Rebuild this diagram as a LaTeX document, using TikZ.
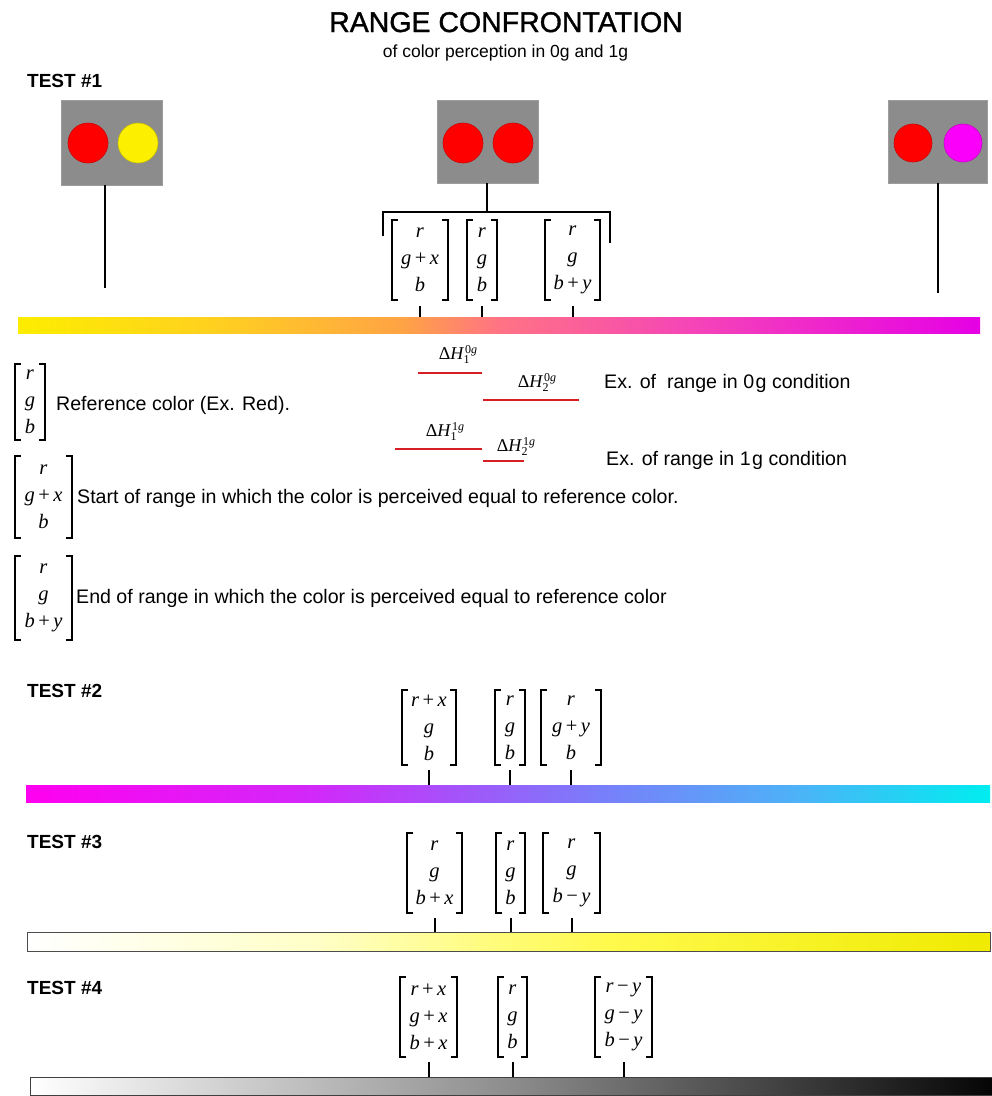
\documentclass[tikz,border=0pt]{standalone}
\usepackage{fontspec}
\setmainfont{Liberation Sans}
\newfontfamily\mfont{Liberation Serif}
\newfontfamily\titlefont[FakeBold=1.2]{Liberation Sans}
\definecolor{imggray}{RGB}{140,140,140}
\definecolor{rangered}{RGB}{215,30,35}
\definecolor{dotyellow}{RGB}{252,240,0}
\definecolor{dotmag}{RGB}{250,0,250}
\pgfdeclarehorizontalshading{gradA}{100bp}{rgb(0bp)=(0.99,0.93,0); rgb(25bp)=(0.99,0.93,0); rgb(35bp)=(1,0.82,0.12); rgb(45bp)=(1,0.64,0.27); rgb(50bp)=(1,0.45,0.52); rgb(60bp)=(0.96,0.27,0.72); rgb(75bp)=(0.9,0,0.9); rgb(100bp)=(0.9,0,0.9)}
\pgfdeclarehorizontalshading{gradB}{100bp}{rgb(0bp)=(1,0,0.94); rgb(25bp)=(1,0,0.94); rgb(40bp)=(0.82,0.16,0.98); rgb(47.5bp)=(0.64,0.33,0.98); rgb(55bp)=(0.47,0.5,0.98); rgb(65bp)=(0.3,0.7,0.97); rgb(75bp)=(0,0.93,0.94); rgb(100bp)=(0,0.93,0.94)}
\pgfdeclarehorizontalshading{gradC}{100bp}{rgb(0bp)=(1,1,1); rgb(25bp)=(1,1,1); rgb(40bp)=(1,1,0.78); rgb(55bp)=(1,0.98,0.3); rgb(75bp)=(0.94,0.92,0); rgb(100bp)=(0.94,0.92,0)}
\pgfdeclarehorizontalshading{gradD}{100bp}{rgb(0bp)=(1,1,1); rgb(25bp)=(1,1,1); rgb(50bp)=(0.55,0.55,0.55); rgb(75bp)=(0.02,0.02,0.02); rgb(100bp)=(0.02,0.02,0.02)}
\newcommand\iv[1]{\textit{#1}}
\newcommand\pl{\,+\,}
\newcommand\mn{\,−\,}
\newcommand\dH[2]{\mfont\fontsize{18}{18}\selectfont Δ\textit{H}\kern-0.5pt\rlap{\raisebox{-4pt}{\fontsize{12}{12}\selectfont #1}}\raisebox{6pt}{\fontsize{12}{12}\selectfont\kern1.5pt #2\textit{g}}}
\newcommand\vecnode[6]{%
  \node[vec, minimum width=#4pt, minimum height=#5pt] (#1) at (#2,#3) {#6};
  \draw[brk] ([xshift=6pt]#1.north west) -- (#1.north west) -- (#1.south west) -- ([xshift=6pt]#1.south west);
  \draw[brk] ([xshift=-6pt]#1.north east) -- (#1.north east) -- (#1.south east) -- ([xshift=-6pt]#1.south east);}
\tikzset{
  vec/.style={inner sep=0pt, align=center, font=\mfont\fontsize{20.5}{27}\selectfont},
  brk/.style={line width=2.2pt},
  tickline/.style={line width=2pt},
  conn/.style={line width=1.8pt},
  hl/.style={draw=rangered, line width=2.6pt},
  txt/.style={inner sep=0pt, anchor=west, font=\fontsize{19.6}{22}\selectfont},
  testlbl/.style={inner sep=0pt, anchor=base west, font=\bfseries\fontsize{19}{22}\selectfont},
  img/.style={fill=imggray, draw=imggray!85, inner sep=0pt},
  dot/.style={circle, inner sep=0pt, minimum size=40pt, line width=0.6pt},
  bar/.style={inner sep=0pt, anchor=north west, shade},
  dhl/.style={inner sep=0pt},
}
\begin{document}
\begin{tikzpicture}[x=1pt,y=-1pt]
\fill[white] (0,0) rectangle (992,1096);
\useasboundingbox (0,0) rectangle (992,1096);

% title
\node[anchor=base, inner sep=0pt, font=\titlefont\fontsize{28.5}{30}\selectfont] (title) at (506,32) {RANGE CONFRONTATION};
\node[anchor=base, inner sep=0pt, font=\fontsize{17.5}{20}\selectfont] (subtitle) at (505.5,57) {of color perception in 0g and 1g};

% TEST 1
\node[testlbl] (test1) at (27,87) {TEST \#1};
\node[img, minimum width=101pt, minimum height=85pt] (img1) at (111.5,142.5) {};
\node[dot, fill=red, draw=red!80!black] (c11) at (88,143) {};
\node[dot, fill=dotyellow, draw=dotyellow!80!black] (c12) at (138,143) {};
\node[img, minimum width=101pt, minimum height=83pt] (img2) at (487.5,141.5) {};
\node[dot, fill=red, draw=red!80!black] (c21) at (463,143) {};
\node[dot, fill=red, draw=red!80!black] (c22) at (513,143) {};
\node[img, minimum width=99pt, minimum height=83pt] (img3) at (937.5,141.5) {};
\node[dot, fill=red, draw=red!80!black, minimum size=38pt] (c31) at (913,143) {};
\node[dot, fill=dotmag, draw=dotmag!80!black, minimum size=38pt] (c32) at (963,143) {};

\coordinate (e1) at (105,288);
\draw[conn] (img1.south -| e1) -- (e1);
\coordinate (e3) at (938,293);
\draw[conn] (img3.south -| e3) -- (e3);
\coordinate (bt) at (487,212);
\coordinate (bl) at (383,236);
\coordinate (br) at (610,243);
\draw[conn] (img2.south -| bt) -- (bt);
\draw[conn] (bl) |- (bt) -| (br);

\vecnode{a1}{420}{260}{56}{80}{\iv{r}\\\iv{g}\pl\iv{x}\\\iv{b}}
\vecnode{a2}{482}{260}{30}{80}{\iv{r}\\\iv{g}\\\iv{b}}
\vecnode{a3}{572.5}{260}{55}{80}{\iv{r}\\\iv{g}\\\iv{b}\pl\iv{y}}

\node[bar, shading=gradA, minimum width=962pt, minimum height=16pt] (bar1) at (18,317) {};
\foreach \m in {a1,a2,a3} \draw[tickline] ([yshift=-6pt]\m.south) -- (\m.south |- bar1.north);

% ranges
\node[dhl] (dh1) at (458,355) {\dH{1}{0}};
\draw[hl] (418,373) -- (482,373);
\node[dhl] (dh2) at (537,383) {\dH{2}{0}};
\draw[hl] (483,400) -- (579,400);
\node[dhl] (dh3) at (445,432) {\dH{1}{1}};
\draw[hl] (395,449) -- (482,449);
\node[dhl] (dh4) at (516,447) {\dH{2}{1}};
\draw[hl] (483,461) -- (524,461);
\node[txt] (t4) at (604,383) {Ex. of\ \ range in 0\kern1.5pt g condition};
\node[txt] (t5) at (606,460) {Ex. of range in 1\kern1.5pt g condition};

% legend
\vecnode{l1}{30}{402}{30}{75}{\iv{r}\\\iv{g}\\\iv{b}}
\node[txt] (t1) at (56,405) {Reference color (Ex. Red).};
\vecnode{l2}{43.5}{497}{57}{81}{\iv{r}\\\iv{g}\pl\iv{x}\\\iv{b}}
\node[txt] (t2) at (77,498) {Start of range in which the color is perceived equal to reference color.};
\vecnode{l3}{43.5}{598}{57}{83}{\iv{r}\\\iv{g}\\\iv{b}\pl\iv{y}}
\node[txt] (t3) at (76,598) {End of range in which the color is perceived equal to reference color};

% TEST 2
\node[testlbl] (test2) at (27,697) {TEST \#2};
\vecnode{b1}{429}{727.5}{54}{75}{\iv{r}\pl\iv{x}\\\iv{g}\\\iv{b}}
\vecnode{b2}{510}{727.5}{30}{75}{\iv{r}\\\iv{g}\\\iv{b}}
\vecnode{b3}{571}{727.5}{60}{75}{\iv{r}\\\iv{g}\pl\iv{y}\\\iv{b}}
\node[bar, shading=gradB, minimum width=964pt, minimum height=17pt] (bar2) at (26,785) {};
\foreach \m in {b1,b2,b3} \draw[tickline] ([yshift=-5pt]\m.south) -- (\m.south |- bar2.north);

% TEST 3
\node[testlbl] (test3) at (27,848) {TEST \#3};
\vecnode{c1}{434.5}{873}{55}{80}{\iv{r}\\\iv{g}\\\iv{b}\pl\iv{x}}
\vecnode{c2}{510.5}{873}{29}{80}{\iv{r}\\\iv{g}\\\iv{b}}
\vecnode{c3}{571.5}{873}{57}{80}{\iv{r}\\\iv{g}\\\iv{b}\mn\iv{y}}
\node[bar, shading=gradC, draw=black!70, line width=1.2pt, minimum width=963pt, minimum height=19pt] (bar3) at (27,932) {};
\foreach \m in {c1,c2,c3} \draw[tickline] ([yshift=-5pt]\m.south) -- (\m.south |- bar3.north);

% TEST 4
\node[testlbl] (test4) at (27,994) {TEST \#4};
\vecnode{d1}{428.5}{1017}{57}{80}{\iv{r}\pl\iv{x}\\\iv{g}\pl\iv{x}\\\iv{b}\pl\iv{x}}
\vecnode{d2}{512.5}{1017}{29}{80}{\iv{r}\\\iv{g}\\\iv{b}}
\vecnode{d3}{623.5}{1017}{57}{80}{\iv{r}\mn\iv{y}\\\iv{g}\mn\iv{y}\\\iv{b}\mn\iv{y}}
\node[bar, shading=gradD, draw=black!75, line width=1.2pt, minimum width=962pt, minimum height=18pt] (bar4) at (30,1077) {};
\foreach \m in {d1,d2,d3} \draw[tickline] ([yshift=-5pt]\m.south) -- (\m.south |- bar4.north);
\end{tikzpicture}
\end{document}
